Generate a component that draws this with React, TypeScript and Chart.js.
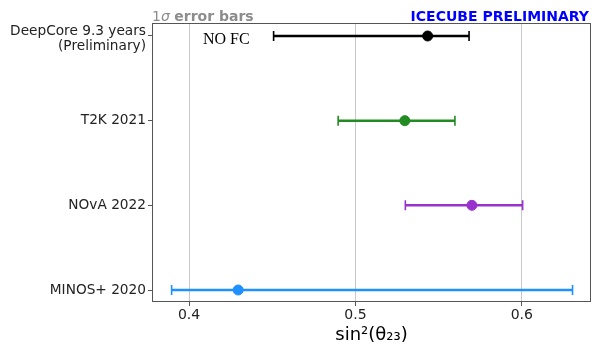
import React, { useEffect, useRef } from "react";
import { Chart, registerables } from "chart.js";

Chart.register(...registerables);

const experiments = [["DeepCore 9.3 years", "(Preliminary)"], ["T2K 2021"], ["NOvA 2022"], ["MINOS+ 2020"]];
const centers = [0.5434, 0.5297, 0.570, 0.4295];
const lows = [0.4508, 0.4896, 0.5300, 0.3895];
const highs = [0.5683, 0.5598, 0.6005, 0.6305];
const colors = ["#000000", "#228b22", "#9932cc", "#1e90ff"];
const xTicks = [0.4, 0.5, 0.6];

const FONT = "'DejaVu Sans', sans-serif";

const overlayPlugin = {
  id: "overlay",
  beforeDatasetsDraw(chart: any) {
    const { ctx, scales } = chart;
    const xs = scales.x;
    const ys = scales.y;
    ctx.save();
    for (let i = 0; i < centers.length; i++) {
      const y = ys.getPixelForValue(i);
      const x1 = xs.getPixelForValue(lows[i]);
      const x2 = xs.getPixelForValue(highs[i]);
      ctx.strokeStyle = colors[i];
      ctx.lineWidth = 2.5;
      ctx.beginPath();
      ctx.moveTo(x1, y);
      ctx.lineTo(x2, y);
      ctx.stroke();
      ctx.lineWidth = 1.6;
      ctx.beginPath();
      ctx.moveTo(x1, y - 5);
      ctx.lineTo(x1, y + 5);
      ctx.moveTo(x2, y - 5);
      ctx.lineTo(x2, y + 5);
      ctx.stroke();
    }
    ctx.restore();
  },
  afterDraw(chart: any) {
    const { ctx, chartArea, scales } = chart;
    ctx.save();
    // frame
    ctx.strokeStyle = "#555";
    ctx.lineWidth = 1;
    ctx.strokeRect(chartArea.left + 0.5, chartArea.top + 0.5, chartArea.right - chartArea.left - 1, chartArea.bottom - chartArea.top - 1);
    // y tick labels
    ctx.fillStyle = "#222";
    ctx.font = `13.7px ${FONT}`;
    ctx.textAlign = "right";
    ctx.textBaseline = "middle";
    experiments.forEach((lines, i) => {
      const y = scales.y.getPixelForValue(i);
      const lh = 15;
      const start = y - ((lines.length - 1) * lh) / 2 + (lines.length > 1 ? 2.5 : 0);
      lines.forEach((t, j) => ctx.fillText(t, chartArea.left - 6, start + j * lh));
    });
    // top-left label
    ctx.textBaseline = "alphabetic";
    ctx.textAlign = "left";
    ctx.fillStyle = "#8c8c8c";
    ctx.font = `14px ${FONT}`;
    ctx.fillText("1", chartArea.left, 21);
    let x = chartArea.left + ctx.measureText("1").width;
    ctx.font = `italic 14px ${FONT}`;
    ctx.fillText("σ ", x, 21);
    x += ctx.measureText("σ ").width;
    ctx.font = `bold 14px ${FONT}`;
    ctx.fillText("error bars", x, 21);
    // top-right label
    ctx.textAlign = "right";
    ctx.fillStyle = "#0000ff";
    ctx.font = `bold 14px ${FONT}`;
    ctx.fillText("ICECUBE PRELIMINARY", 589, 21);
    // NO FC
    ctx.textAlign = "left";
    ctx.fillStyle = "#000";
    ctx.font = `16px 'Liberation Serif', serif`;
    ctx.textBaseline = "middle";
    ctx.fillText("NO FC", 203, 40);
    // x title
    ctx.textAlign = "center";
    ctx.textBaseline = "alphabetic";
    ctx.font = `18px ${FONT}`;
    const cx = (chartArea.left + chartArea.right) / 2;
    ctx.fillText("sin²(θ₂₃)", cx, 340);
    ctx.restore();
  },
};

export default function App() {
  const ref = useRef<HTMLCanvasElement>(null);
  useEffect(() => {
    if (!ref.current) return;
    const chart = new Chart(ref.current, {
      type: "scatter",
      data: {
        datasets: centers.map((c, i) => ({
          data: [{ x: c, y: i }],
          backgroundColor: colors[i],
          borderColor: colors[i],
          pointRadius: 5,
          pointHoverRadius: 5,
        })),
      },
      options: {
        animation: false,
        responsive: false,
        maintainAspectRatio: false,
        layout: { autoPadding: false, padding: { top: 23, right: 1, left: 0, bottom: 0 } },
        plugins: { legend: { display: false }, tooltip: { enabled: false } },
        scales: {
          x: {
            type: "linear",
            min: 0.3777,
            max: 0.6416,
            afterBuildTicks: (s: any) => {
              s.ticks = xTicks.map((v) => ({ value: v }));
            },
            afterFit: (s: any) => {
              s.height = 43;
              s.paddingRight = 0;
              s.paddingLeft = 0;
            },
            grid: { color: "#c8c8c8", lineWidth: 1, drawTicks: true, tickLength: 4, tickColor: "#555" },
            border: { display: false },
            ticks: {
              color: "#222",
              font: { family: FONT, size: 14 },
              padding: 1,
              callback: (v: any) => Number(v).toFixed(1),
            },
          },
          y: {
            type: "linear",
            reverse: true,
            min: -0.1535,
            max: 3.1417,
            afterBuildTicks: (s: any) => {
              s.ticks = experiments.map((_, i) => ({ value: i }));
            },
            afterFit: (s: any) => {
              s.width = 152;
              s.paddingTop = 0;
              s.paddingBottom = 0;
            },
            grid: { drawOnChartArea: false, drawTicks: true, tickLength: 4, tickColor: "#555" },
            border: { display: false },
            ticks: {
              color: "rgba(0,0,0,0)",
              font: { family: FONT, size: 14 },
              padding: 2,
              callback: () => "",
            },
          },
        },
      },
      plugins: [overlayPlugin],
    });
    return () => chart.destroy();
  }, []);
  return (
    <div style={{ position: "fixed", left: 0, top: 0, width: 592, height: 345, background: "#fff" }}>
      <canvas ref={ref} width={592} height={345} style={{ width: 592, height: 345 }} />
    </div>
  );
}
